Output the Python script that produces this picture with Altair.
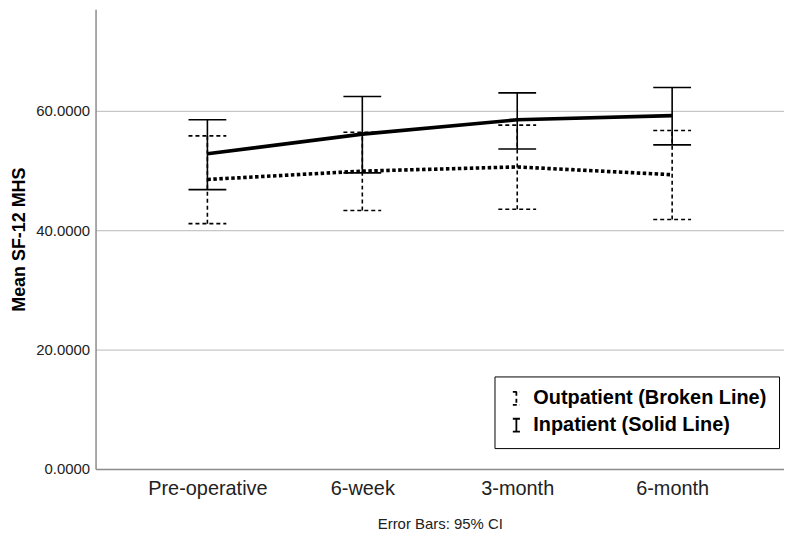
import altair as alt
import pandas as pd

times = ["Pre-operative", "6-week", "3-month", "6-month"]
groups = ["Outpatient (Broken Line)", "Inpatient (Solid Line)"]

in_mean = [52.8, 56.1, 58.5, 59.2]
in_lo = [46.8, 49.6, 53.6, 54.3]
in_hi = [58.5, 62.4, 63.0, 63.9]

out_mean = [48.5, 49.9, 50.6, 49.3]
out_lo = [41.1, 43.3, 43.5, 41.8]
out_hi = [55.8, 56.4, 57.6, 56.7]

rows = []
for i, t in enumerate(times):
    rows.append({"time": t, "group": groups[1], "mean": in_mean[i], "lo": in_lo[i], "hi": in_hi[i]})
    rows.append({"time": t, "group": groups[0], "mean": out_mean[i], "lo": out_lo[i], "hi": out_hi[i]})
df = pd.DataFrame(rows)

FONT = "Liberation Sans"
W, H = 692, 462

xenc = alt.X(
    "time:N",
    sort=times,
    scale=alt.Scale(type="point", domain=times, padding=0.722),
    axis=alt.Axis(
        title="Error Bars: 95% CI",
        titleFont=FONT, titleFontSize=15, titleFontWeight="normal", titleColor="#222",
        titlePadding=18,
        labelFont=FONT, labelFontSize=20, labelColor="#222", labelPadding=10, labelAngle=0,
        ticks=False, grid=False, domainColor="#8c8c8c", domainWidth=1.5,
    ),
)
yscale = alt.Scale(domain=[0, 77], nice=False, zero=True)
yaxis = alt.Axis(
    title="Mean SF-12 MHS",
    titleFont=FONT, titleFontSize=18, titleFontWeight="bold", titleColor="#000",
    titlePadding=7,
    values=[0, 20, 40, 60], format=".4f",
    labelFont=FONT, labelFontSize=15, labelColor="#222", labelPadding=6,
    ticks=False, grid=True, gridColor="#b8b8b8", gridWidth=1,
    domainColor="#8c8c8c", domainWidth=1.5,
)

legend = alt.Legend(
    title=None,
    orient="none", legendX=401, legendY=369,
    symbolType="M-0.55,-1H0.55M0,-1V1M-0.55,1H0.55",
    symbolSize=169, symbolStrokeWidth=1.8, symbolStrokeColor="black",
    labelFont=FONT, labelFontSize=20, labelFontWeight="bold", labelColor="#000",
    labelLimit=400, labelOffset=7, rowPadding=5, padding=12,
    strokeColor="black", fillColor="white",
)
dash = alt.StrokeDash(
    "group:N",
    scale=alt.Scale(domain=groups, range=[[4, 3], [1, 0]]),
    legend=legend,
)

base = alt.Chart(df)

bars = base.mark_rule(color="black", strokeWidth=1.6).encode(
    x=xenc,
    y=alt.Y("lo:Q", scale=yscale, axis=yaxis),
    y2="hi:Q",
    strokeDash=dash,
)
caps_hi = base.mark_rule(color="black", strokeWidth=1.6, xOffset=-19, x2Offset=19).encode(
    x=xenc, x2="time:N", y=alt.Y("hi:Q", scale=yscale, axis=yaxis), strokeDash=dash,
)
caps_lo = base.mark_rule(color="black", strokeWidth=1.6, xOffset=-19, x2Offset=19).encode(
    x=xenc, x2="time:N", y=alt.Y("lo:Q", scale=yscale, axis=yaxis), strokeDash=dash,
)
line_in = base.transform_filter(alt.datum.group == groups[1]).mark_line(
    color="black", strokeWidth=3.6
).encode(x=xenc, y=alt.Y("mean:Q", scale=yscale, axis=yaxis))
line_out = base.transform_filter(alt.datum.group == groups[0]).mark_line(
    color="black", strokeWidth=3.6, strokeDash=[3.5, 2.5]
).encode(x=xenc, y=alt.Y("mean:Q", scale=yscale, axis=yaxis))

chart = alt.layer(bars, caps_hi, caps_lo, line_out, line_in).properties(
    width=W, height=H,
    autosize=alt.AutoSizeParams(type="none"),
    padding={"left": 88, "top": 0, "right": 0, "bottom": 63},
    background="white",
).configure_view(stroke=None)

chart.save("out.html", embed_options={"renderer": "svg", "actions": False})
